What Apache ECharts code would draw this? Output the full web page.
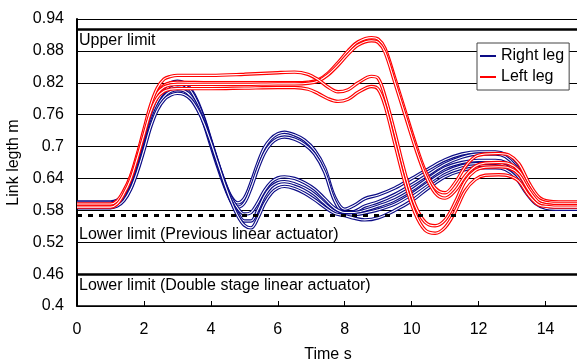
<!DOCTYPE html>
<html>
<head>
<meta charset="utf-8">
<script src="https://cdn.jsdelivr.net/npm/echarts@6/dist/echarts.min.js"></script>
<style>
html,body{margin:0;padding:0;background:#fff;}
#chart{width:577px;height:363px;}
</style>
</head>
<body>
<div id="chart"></div>
<script>
// ---- Data ----
const xTicks = [0, 2, 4, 6, 8, 10, 12, 14];
const yTicks = [0.4, 0.46, 0.52, 0.58, 0.64, 0.7, 0.76, 0.82, 0.88, 0.94];

const upperLimit = 0.915;
const lowerLimitPrev = 0.57;
const lowerLimitDouble = 0.46;

const timeRight = [0, 1.0, 1.2, 1.4, 1.6, 1.8, 2.0, 2.2, 2.4, 2.6, 2.8, 3.0, 3.2, 3.4, 3.6, 3.8, 4.0, 4.2, 4.4, 4.6, 4.8, 5.0, 5.2, 5.4, 5.6, 5.8, 6.0, 6.2, 6.5, 6.8, 7.1, 7.4, 7.7, 8.0, 8.3, 8.6, 9.0, 9.5, 10.0, 10.5, 11.0, 11.5, 12.0, 12.5, 12.8, 13.1, 13.4, 13.7, 14.0, 14.3, 15];

const right1 = [0.596, 0.596, 0.599, 0.609, 0.63, 0.664, 0.707, 0.755, 0.79, 0.81, 0.82, 0.823, 0.82, 0.808, 0.785, 0.752, 0.712, 0.672, 0.635, 0.606, 0.594, 0.603, 0.632, 0.668, 0.698, 0.715, 0.724, 0.727, 0.722, 0.712, 0.693, 0.66, 0.605, 0.582, 0.59, 0.602, 0.609, 0.622, 0.64, 0.658, 0.675, 0.686, 0.69, 0.69, 0.685, 0.667, 0.634, 0.603, 0.589, 0.586, 0.586];
const right2 = [0.594, 0.594, 0.597, 0.607, 0.628, 0.662, 0.704, 0.75, 0.783, 0.802, 0.811, 0.814, 0.812, 0.8, 0.776, 0.742, 0.702, 0.663, 0.627, 0.598, 0.586, 0.594, 0.622, 0.658, 0.688, 0.706, 0.715, 0.718, 0.714, 0.704, 0.686, 0.652, 0.598, 0.574, 0.578, 0.588, 0.596, 0.61, 0.628, 0.648, 0.667, 0.68, 0.686, 0.686, 0.681, 0.663, 0.631, 0.601, 0.588, 0.585, 0.585];
const right3 = [0.59, 0.59, 0.593, 0.603, 0.624, 0.658, 0.701, 0.748, 0.784, 0.804, 0.815, 0.818, 0.816, 0.805, 0.782, 0.75, 0.71, 0.67, 0.634, 0.604, 0.584, 0.573, 0.576, 0.594, 0.617, 0.633, 0.641, 0.643, 0.64, 0.632, 0.62, 0.602, 0.584, 0.576, 0.576, 0.58, 0.588, 0.6, 0.618, 0.64, 0.66, 0.67, 0.674, 0.674, 0.67, 0.654, 0.624, 0.598, 0.587, 0.584, 0.584];
const right4 = [0.587, 0.587, 0.59, 0.6, 0.621, 0.655, 0.697, 0.742, 0.775, 0.794, 0.804, 0.807, 0.805, 0.795, 0.774, 0.745, 0.708, 0.668, 0.63, 0.598, 0.575, 0.56, 0.56, 0.58, 0.607, 0.624, 0.632, 0.634, 0.63, 0.622, 0.61, 0.593, 0.578, 0.571, 0.572, 0.575, 0.581, 0.592, 0.61, 0.632, 0.652, 0.664, 0.668, 0.668, 0.664, 0.649, 0.62, 0.596, 0.586, 0.583, 0.583];
const right5 = [0.585, 0.585, 0.588, 0.598, 0.619, 0.652, 0.693, 0.737, 0.769, 0.788, 0.797, 0.8, 0.798, 0.789, 0.77, 0.743, 0.708, 0.67, 0.632, 0.598, 0.57, 0.552, 0.547, 0.565, 0.593, 0.612, 0.622, 0.625, 0.621, 0.612, 0.6, 0.586, 0.574, 0.57, 0.565, 0.562, 0.566, 0.58, 0.598, 0.622, 0.643, 0.655, 0.66, 0.66, 0.657, 0.643, 0.615, 0.593, 0.584, 0.582, 0.582];

const timeLeft = [0, 1.0, 1.2, 1.4, 1.6, 1.8, 2.0, 2.2, 2.4, 2.6, 2.8, 3.0, 4.0, 5.0, 6.0, 6.5, 6.9, 7.2, 7.5, 7.8, 8.1, 8.4, 8.8, 9.0, 9.2, 9.5, 9.8, 10.1, 10.4, 10.7, 11.0, 11.3, 11.6, 11.9, 12.2, 12.6, 12.9, 13.2, 13.5, 13.8, 14.1, 14.4, 15];

const left1 = [0.59, 0.59, 0.596, 0.615, 0.642, 0.682, 0.728, 0.772, 0.802, 0.815, 0.82, 0.821, 0.82, 0.82, 0.82, 0.82, 0.821, 0.825, 0.838, 0.858, 0.88, 0.897, 0.905, 0.902, 0.885, 0.828, 0.768, 0.708, 0.655, 0.622, 0.613, 0.632, 0.662, 0.681, 0.686, 0.687, 0.684, 0.668, 0.632, 0.605, 0.597, 0.596, 0.596];
const left2 = [0.588, 0.588, 0.594, 0.613, 0.64, 0.68, 0.726, 0.77, 0.8, 0.812, 0.816, 0.817, 0.817, 0.817, 0.818, 0.818, 0.819, 0.823, 0.835, 0.853, 0.874, 0.891, 0.899, 0.896, 0.878, 0.82, 0.76, 0.7, 0.648, 0.613, 0.603, 0.617, 0.645, 0.663, 0.669, 0.67, 0.668, 0.655, 0.624, 0.6, 0.594, 0.593, 0.593];
const left3 = [0.592, 0.592, 0.598, 0.617, 0.644, 0.685, 0.732, 0.778, 0.81, 0.827, 0.832, 0.834, 0.834, 0.836, 0.839, 0.84, 0.836, 0.826, 0.812, 0.803, 0.807, 0.82, 0.832, 0.828, 0.795, 0.725, 0.65, 0.59, 0.558, 0.551, 0.562, 0.595, 0.635, 0.655, 0.661, 0.662, 0.66, 0.648, 0.618, 0.595, 0.59, 0.589, 0.589];
const left4 = [0.586, 0.586, 0.592, 0.611, 0.638, 0.678, 0.722, 0.765, 0.792, 0.804, 0.808, 0.809, 0.809, 0.81, 0.811, 0.811, 0.808, 0.8, 0.79, 0.785, 0.789, 0.802, 0.813, 0.808, 0.778, 0.705, 0.632, 0.575, 0.543, 0.537, 0.548, 0.578, 0.617, 0.638, 0.646, 0.647, 0.645, 0.635, 0.608, 0.59, 0.587, 0.586, 0.586];

const rightLeg = [right1, right2, right3, right4, right5];
const leftLeg = [left1, left2, left3, left4];

// ---- Chart ----
const BLUE = '#0c0c86';
const RED = '#ff0000';
const FONT = 'Liberation Sans, Arial, sans-serif';

function pts(t, v) { return t.map((x, i) => [x, v[i]]); }

const series = [];
function addCurve(name, color, t, v) {
  const d = pts(t, v);
  series.push({
    type: 'line', name: name, data: d, symbol: 'none', showSymbol: false,
    smooth: 0.35, silent: true, z: 3,
    lineStyle: { color: color, width: 3.4 }, itemStyle: { color: color }
  });
  series.push({
    type: 'line', name: '_w', data: d, symbol: 'none', showSymbol: false,
    smooth: 0.35, silent: true, z: 3,
    lineStyle: { color: '#ffffff', width: 1.1 }, itemStyle: { color: '#ffffff' }
  });
}
rightLeg.forEach(v => addCurve('Right leg', BLUE, timeRight, v));
leftLeg.forEach(v => addCurve('Left leg', RED, timeLeft, v));

const lblStyle = { show: true, position: 'insideStartBottom', color: '#000', fontSize: 16, fontFamily: FONT };
series.push({
  type: 'line', name: '_limits', data: [], silent: true, z: 4,
  markLine: {
    silent: true, symbol: 'none', animation: false,
    data: [
      { yAxis: upperLimit, lineStyle: { color: '#000', width: 2.5, type: 'solid' },
        label: Object.assign({}, lblStyle, { formatter: 'Upper limit', distance: [2, 3] }) },
      { yAxis: lowerLimitPrev, lineStyle: { color: '#000', width: 3, type: [5, 6] },
        label: Object.assign({}, lblStyle, { formatter: 'Lower limit (Previous linear actuator)', distance: [2, 11] }) },
      { yAxis: lowerLimitDouble, lineStyle: { color: '#000', width: 2.5, type: 'solid' },
        label: Object.assign({}, lblStyle, { formatter: 'Lower limit (Double stage linear actuator)', distance: [2, 3] }) }
    ]
  }
});

const chart = echarts.init(document.getElementById('chart'), null, { renderer: 'canvas' });
chart.setOption({
  animation: false,
  backgroundColor: '#fff',
  textStyle: { fontFamily: FONT },
  grid: { left: 77, top: 19, right: -2, bottom: 57, containLabel: false, outerBoundsMode: 'none' },
  legend: {
    show: true,
    data: ['Right leg', 'Left leg'],
    orient: 'vertical', left: 477, top: 43,
    icon: 'rect',
    itemWidth: 16, itemHeight: 2, itemGap: 5,
    padding: [5, 5, 5, 3],
    backgroundColor: '#fff', borderColor: '#444', borderWidth: 1,
    textStyle: { fontSize: 16, color: '#000', fontFamily: FONT }
  },
  xAxis: {
    type: 'value', min: xTicks[0], max: 15, interval: 2,
    name: 'Time s', nameLocation: 'middle', nameGap: 41,
    nameTextStyle: { fontSize: 16, color: '#000', fontFamily: FONT },
    axisLine: { onZero: false, lineStyle: { color: '#000', width: 1.5 } },
    axisTick: { inside: true, length: 5, lineStyle: { color: '#000' } },
    axisLabel: { fontSize: 16, color: '#000', margin: 16, fontFamily: FONT,
      showMaxLabel: false },
    splitLine: { show: false }
  },
  yAxis: {
    type: 'value', min: yTicks[0], max: yTicks[yTicks.length - 1], interval: 0.06,
    name: 'Link legth m', nameLocation: 'middle', nameGap: 52,
    nameTextStyle: { fontSize: 16, color: '#000', fontFamily: FONT },
    axisLine: { show: true, lineStyle: { color: '#000', width: 2 } },
    axisTick: { show: false },
    axisLabel: { fontSize: 16, color: '#000', margin: 13, fontFamily: FONT,
      formatter: v => String(+v.toFixed(2)) },
    splitLine: { show: true, lineStyle: { color: '#000', width: 1 } }
  },
  series: series
});
</script>
</body>
</html>
